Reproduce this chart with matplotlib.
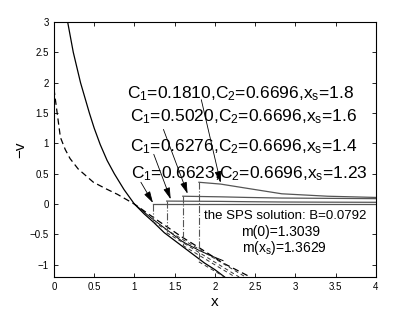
import numpy as np
import matplotlib
matplotlib.use('Agg')
import matplotlib.pyplot as plt

plt.rcParams['font.family'] = ['Liberation Sans', 'DejaVu Sans']
plt.rcParams['mathtext.default'] = 'regular'

# main curves
main_x = [0.17, 0.24, 0.33, 0.44, 0.5, 0.575, 0.66, 0.75, 0.87, 1.0, 1.12, 1.23, 1.37, 1.5, 1.6, 1.7, 1.8, 1.87, 2.0, 2.12]
main_y = [3.0, 2.5, 2.0, 1.5, 1.25, 0.98, 0.72, 0.5, 0.24, 0.0, -0.16, -0.29, -0.47, -0.6, -0.7, -0.8, -0.9, -0.97, -1.08, -1.2]

dash_x = [0.0, 0.02, 0.04, 0.08, 0.14, 0.2, 0.3, 0.49, 0.65, 0.79, 1.0, 1.3, 1.6, 1.83, 2.1, 2.41]
dash_y = [1.9, 1.7, 1.5, 1.1, 0.9, 0.75, 0.58, 0.36, 0.25, 0.16, 0.0, -0.28, -0.55, -0.74, -0.97, -1.18]

second_x = [1.0, 1.2, 1.4, 1.6, 1.8, 1.95, 2.1]
second_y = [0.0, -0.22, -0.42, -0.62, -0.76, -0.85, -0.93]

# the four solutions
xs = [1.23, 1.4, 1.6, 1.8]
c1 = ['0.6623', '0.6276', '0.5020', '0.1810']
c2 = '0.6696'
y_top = [0.0, 0.05, 0.13, 0.36]
y_bot = [-0.29, -0.47, -0.68, -0.95]
right_x = [2.07, 2.4, 2.83, 3.4, 4.0]
right_y = [[0.0, 0.0, 0.0, 0.0, 0.0],
           [0.045, 0.04, 0.035, 0.032, 0.03],
           [0.12, 0.11, 0.1, 0.095, 0.09],
           [0.33, 0.26, 0.17, 0.13, 0.11]]
low_end_x = [2.38, 2.3, 2.25, 2.12]

# label texts and arrows
lab_pos = [(0.96, 0.43), (0.94, 0.87), (0.94, 1.36), (0.91, 1.75)]
arr_tail = [(1.08, 0.36), (1.24, 0.82), (1.36, 1.23), (1.83, 1.72)]
arr_head = [(1.23, 0.02), (1.45, 0.08), (1.66, 0.17), (2.07, 0.35)]

fig = plt.figure(figsize=(4.15, 3.13), dpi=100)
ax = fig.add_axes([0.130, 0.115, 0.776, 0.815])

ax.plot(main_x, main_y, 'k-', lw=0.9)
ax.plot(dash_x, dash_y, 'k--', lw=0.9, dashes=(5, 3))
ax.plot(second_x, second_y, 'k-', lw=0.7)

for i in range(4):
    ax.plot([xs[i]] + right_x, [y_top[i]] + right_y[i], '-', color='#555555', lw=0.9)
    ax.plot([xs[i], xs[i]], [y_top[i], y_bot[i]], '-.', color='#555555', lw=0.8)
    ax.plot([xs[i], low_end_x[i]], [y_bot[i], -1.2], '--', color='#333333', lw=0.7, dashes=(4, 3))
    ax.text(lab_pos[i][0], lab_pos[i][1],
            'C$_1$=' + c1[i] + ',C$_2$=' + c2 + ',x$_s$=' + str(xs[i]),
            fontsize=12.5, va='baseline', ha='left')
    ax.annotate('', xy=arr_head[i], xytext=arr_tail[i],
                arrowprops=dict(arrowstyle='-|>,head_length=0.7,head_width=0.2',
                                color='k', lw=0.6, shrinkA=0, shrinkB=0))

ax.text(1.86, -0.25, 'the SPS solution: B=0.0792', fontsize=9.5, va='baseline')
ax.text(2.33, -0.53, 'm(0)=1.3039', fontsize=10, va='baseline')
ax.text(2.33, -0.79, 'm(x$_s$)=1.3629', fontsize=10, va='baseline')

ax.set_xlim(0, 4)
ax.set_ylim(-1.2, 3)
ax.set_xticks(np.arange(0, 4.01, 0.5))
ax.set_xticklabels(['0', '0.5', '1', '1.5', '2', '2.5', '3', '3.5', '4'])
ax.set_yticks(np.arange(-1, 3.01, 0.5))
ax.set_yticklabels(['\u22121', '\u22120.5', '0', '0.5', '1', '1.5', '2', '2.5', '3'])
ax.tick_params(direction='in', top=True, right=True, labelsize=7, length=3, width=0.6)
for s in ax.spines.values():
    s.set_linewidth(0.8)
ax.set_xlabel('x', fontsize=11, labelpad=2)
ax.set_ylabel('\u2212v', fontsize=11, labelpad=2)

fig.savefig('out.png', dpi=100)
